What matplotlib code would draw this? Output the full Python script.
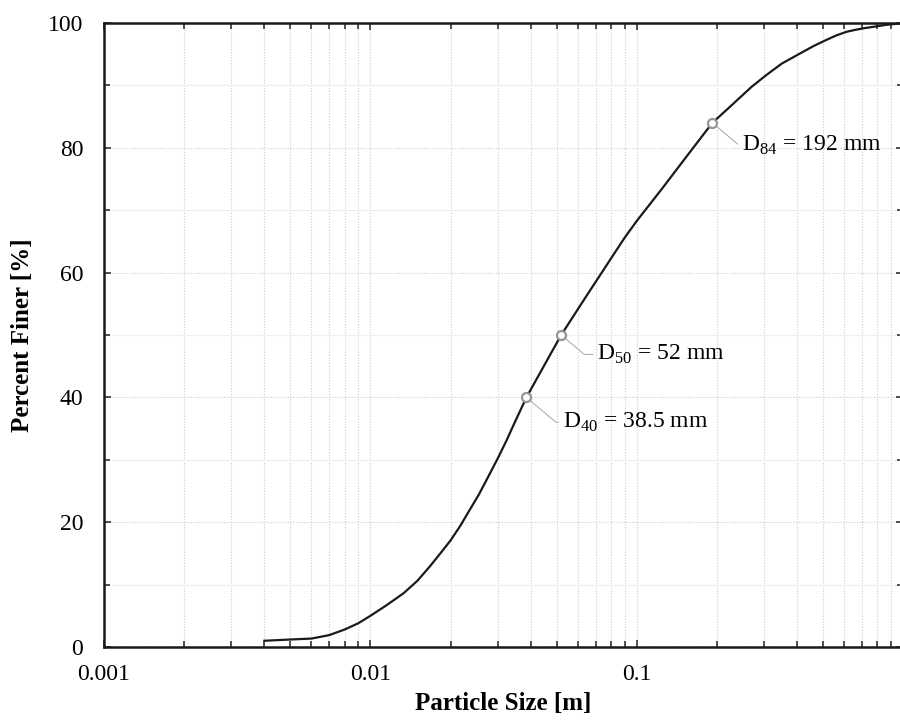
import numpy as np
import matplotlib.pyplot as plt
from matplotlib.ticker import LogLocator, MultipleLocator, NullFormatter

plt.rcParams["font.family"] = ["Liberation Serif", "DejaVu Serif"]
plt.rcParams["mathtext.fontset"] = "custom"
plt.rcParams["mathtext.rm"] = "Liberation Serif"

# grain size distribution
size_m = [0.0040, 0.0050, 0.0060, 0.0070, 0.0080, 0.0090, 0.0100, 0.0115,
          0.0133, 0.0150, 0.0167, 0.0183, 0.0200, 0.0218, 0.0236, 0.0255,
          0.0273, 0.0302, 0.0325, 0.0349, 0.0385, 0.0450, 0.0520, 0.0650,
          0.0815, 0.0900, 0.1000, 0.1256, 0.1536, 0.1920, 0.2200, 0.2430,
          0.2700, 0.3070, 0.3500, 0.4090, 0.4600, 0.5150, 0.5600, 0.6130,
          0.6600, 0.7200, 0.7900, 0.8600, 0.9300, 1.0000]
percent_finer = [1.0, 1.2, 1.35, 1.9, 2.8, 3.8, 5.0, 6.7,
                 8.6, 10.6, 12.9, 15.0, 17.1, 19.5, 22.0, 24.4,
                 26.8, 30.4, 33.2, 36.1, 40.0, 45.2, 50.0, 56.4,
                 62.8, 65.6, 68.3, 73.7, 78.6, 84.0, 86.3, 88.0,
                 89.8, 91.7, 93.5, 95.1, 96.3, 97.3, 98.0, 98.6,
                 98.9, 99.2, 99.45, 99.7, 99.85, 100.0]

d_names = ["40", "50", "84"]
d_sizes = [0.0385, 0.052, 0.192]
d_pcts = [40, 50, 84]
d_texts = ["38.5 mm", "52 mm", "192 mm"]

fig = plt.figure(figsize=(9, 7.24), dpi=100)
ax = fig.add_axes([104 / 900, 77 / 724, 799.3 / 900, 624 / 724])

ax.plot(size_m, percent_finer, color="#1a1a1a", lw=1.6, zorder=3)

# leader offsets in points (layout only)
offsets = [(26, -18), (26, -14), (21, -16)]
for name, xs, yp, txt, off in zip(d_names, d_sizes, d_pcts, d_texts, offsets):
    ax.plot(xs, yp, "o", ms=6.5, mfc="white", mec="#959595", mew=1.6, zorder=4)
    ax.annotate(f"D$_{{{name}}}$ = {txt}", xy=(xs, yp), xytext=off,
                textcoords="offset points", fontsize=17, va="center", ha="left",
                arrowprops=dict(arrowstyle="-", color="#b0b0b0", lw=0.8,
                                shrinkA=1, shrinkB=4, relpos=(0, 0.5),
                                connectionstyle="angle,angleA=0,angleB=-40,rad=0"))

ax.set_xscale("log")
ax.set_xlim(0.001, 1)
ax.set_ylim(0, 100)

ax.set_xticks([0.001, 0.01, 0.1])
ax.set_xticklabels(["0.001", "0.01", "0.1"])
ax.xaxis.set_minor_locator(LogLocator(base=10, subs=np.arange(2, 10)))
ax.xaxis.set_minor_formatter(NullFormatter())
ax.yaxis.set_major_locator(MultipleLocator(20))
ax.yaxis.set_minor_locator(MultipleLocator(10))

ax.tick_params(which="both", direction="in", top=True, right=True,
               labelsize=17, width=1.2, color="#333333")
ax.tick_params(which="major", length=5)
ax.tick_params(which="minor", length=4)
ax.tick_params(axis="x", which="major", pad=12)
ax.tick_params(axis="y", which="major", pad=15)

ax.grid(True, axis="x", which="both", ls=(0, (1, 1.5)), color="#cccccc", lw=0.8)
ax.grid(True, axis="y", which="major", ls=(0, (1, 1.5)), color="#cccccc", lw=0.8)
ax.grid(True, axis="y", which="minor", ls="-", color="#f0f0f0", lw=0.8)
ax.set_axisbelow(True)

for sp in ax.spines.values():
    sp.set_linewidth(1.8)
    sp.set_color("#1a1a1a")

ax.set_xlabel("Particle Size [m]", fontsize=18, fontweight="bold", labelpad=5)
ax.set_ylabel("Percent Finer [%]", fontsize=18, fontweight="bold", labelpad=10)

fig.savefig("out.png", dpi=100)
